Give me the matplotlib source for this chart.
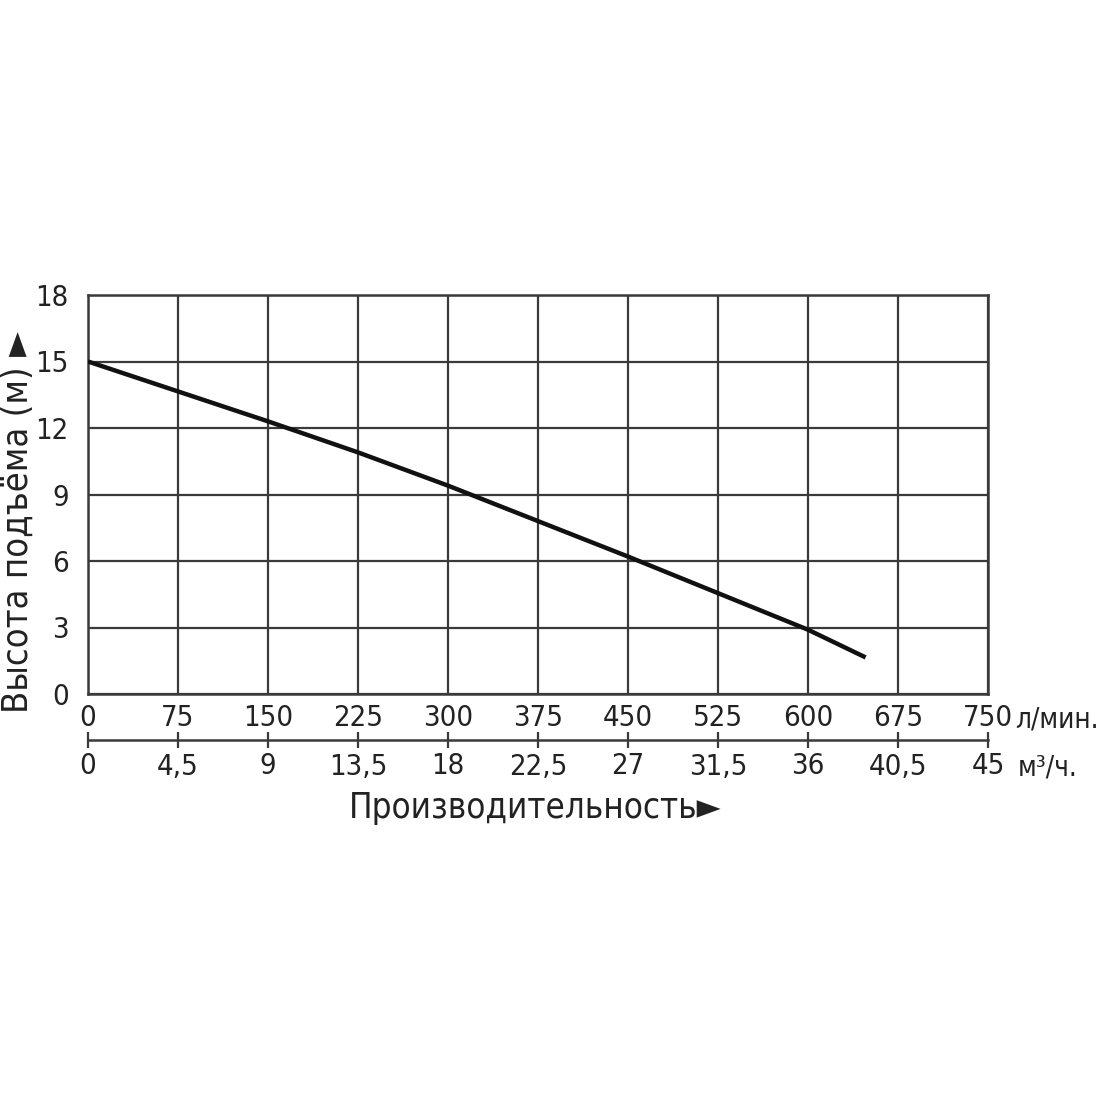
import matplotlib.pyplot as plt

# Pump curve: flow (l/min) vs head (m)
flow_lpm = [0, 75, 150, 225, 300, 375, 450, 525, 600, 648]
head_m = [15.0, 13.65, 12.3, 10.9, 9.4, 7.8, 6.2, 4.55, 2.9, 1.65]

x_ticks = [0, 75, 150, 225, 300, 375, 450, 525, 600, 675, 750]
y_ticks = [0, 3, 6, 9, 12, 15, 18]
m3h_ticks = [0, 4.5, 9, 13.5, 18, 22.5, 27, 31.5, 36, 40.5, 45]
m3h_labels = ["0", "4,5", "9", "13,5", "18", "22,5", "27", "31,5", "36", "40,5", "45"]

plt.rcParams["font.family"] = ["DejaVu Sans"]
plt.rcParams["font.stretch"] = "condensed"
plt.rcParams["font.size"] = 21

grid_col = "#3a3a3a"
text_col = "#222222"

fig = plt.figure(figsize=(11, 11), dpi=100)
ax = fig.add_axes([88 / 1100, 1 - 694 / 1100, 900 / 1100, 399 / 1100])

ax.plot(flow_lpm, head_m, color="#111111", lw=3.2, solid_capstyle="butt", zorder=3)

ax.set_xlim(0, 750)
ax.set_ylim(0, 18)
ax.set_xticks(x_ticks)
ax.set_yticks(y_ticks)
ax.grid(True, color=grid_col, lw=1.6)
for s in ax.spines.values():
    s.set_color(grid_col)
    s.set_linewidth(1.8)
ax.tick_params(axis="both", length=0, labelsize=21, colors=text_col)
ax.tick_params(axis="x", pad=7)
ax.tick_params(axis="y", pad=14)

# second flow scale in m3/h
sec = ax.secondary_xaxis(-46 / 399, functions=(lambda v: v * 0.06, lambda v: v / 0.06))
sec.set_xticks(m3h_ticks)
sec.set_xticklabels(m3h_labels)
sec.spines["bottom"].set_color(grid_col)
sec.spines["bottom"].set_linewidth(1.8)
sec.tick_params(axis="x", direction="inout", length=12, width=1.6, color=grid_col,
                labelsize=21, labelcolor=text_col, pad=3)

fig.text(1015 / 1100, 1 - 719 / 1100, "л/мин.", fontsize=20, ha="left", va="center", color=text_col)
fig.text(1018 / 1100, 1 - 767 / 1100, "м³/ч.", fontsize=20, ha="left", va="center", color=text_col)

fig.text(535 / 1100, 1 - 808 / 1100, "Производительность►", fontsize=25, ha="center", va="center",
         color=text_col)
fig.text(18 / 1100, 1 - 522 / 1100, "Высота подъёма (м) ►", fontsize=26, rotation=90,
         ha="center", va="center", color=text_col)

fig.savefig("out.png", dpi=100)
